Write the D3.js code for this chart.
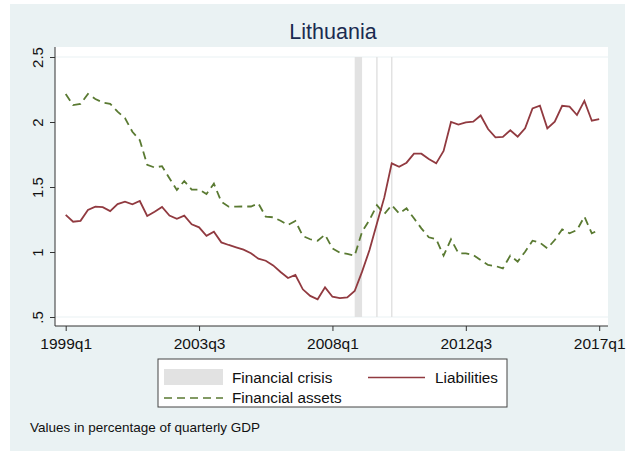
<!DOCTYPE html>
<html lang="en">
<head>
<meta charset="UTF-8">
<title>Lithuania</title>
<script src="https://d3js.org/d3.v7.min.js"></script>
<style>
  body { margin: 0; background: #fff; }
  text { font-family: "Liberation Sans", Arial, sans-serif; }
</style>
</head>
<body>
<svg id="chart" width="639" height="451"></svg>
<script>
// quarters 1999q1 .. 2017q1
const quarters = [];
for (let y = 1999; y <= 2017; y++) {
    for (let q = 1; q <= 4; q++) {
        if (y === 2017 && q > 1) break;
        quarters.push(y + "q" + q);
    }
}

const liabilities = [
    1.285, 1.233, 1.240, 1.323, 1.349, 1.345, 1.315, 1.369, 1.387, 1.367,
    1.392, 1.277, 1.310, 1.346, 1.280, 1.256, 1.280, 1.213, 1.190, 1.125,
    1.156, 1.074, 1.054, 1.036, 1.018, 0.990, 0.949, 0.933, 0.897, 0.846,
    0.800, 0.823, 0.713, 0.662, 0.636, 0.728, 0.656, 0.645, 0.651, 0.700,
    0.849, 1.015, 1.220, 1.420, 1.682, 1.656, 1.687, 1.756, 1.756, 1.715,
    1.682, 1.777, 2.000, 1.980, 1.997, 2.003, 2.050, 1.946, 1.882, 1.885,
    1.936, 1.887, 1.951, 2.105, 2.125, 1.951, 2.002, 2.125, 2.118, 2.054,
    2.162, 2.010, 2.023
];

const assets = [
    2.215, 2.130, 2.140, 2.215, 2.177, 2.150, 2.140, 2.080, 2.030, 1.925,
    1.860, 1.670, 1.650, 1.660, 1.567, 1.477, 1.546, 1.480, 1.480, 1.446,
    1.526, 1.387, 1.349, 1.349, 1.350, 1.350, 1.374, 1.272, 1.267, 1.240,
    1.208, 1.238, 1.123, 1.098, 1.087, 1.133, 1.028, 0.995, 0.985, 0.972,
    1.156, 1.246, 1.360, 1.292, 1.360, 1.297, 1.336, 1.259, 1.182, 1.113,
    1.098, 0.972, 1.098, 0.990, 0.990, 0.977, 0.938, 0.900, 0.892, 0.874,
    0.972, 0.926, 1.002, 1.087, 1.072, 1.028, 1.092, 1.174, 1.144, 1.169,
    1.272, 1.144, 1.169
];

// crisis periods [start, end]
const crisis = [["2008q4", "2009q1"], ["2009q3", "2009q3"], ["2010q1", "2010q1"]];

const xTicks = ["1999q1", "2003q3", "2008q1", "2012q3", "2017q1"];
const yTicks = [0.5, 1, 1.5, 2, 2.5];

const svg = d3.select("#chart");

// graph region
svg.append("rect").attr("x", 10).attr("y", 4).attr("width", 615).attr("height", 447)
    .attr("fill", "#eaf2f3");
// plot region
svg.append("rect").attr("x", 55).attr("y", 47).attr("width", 553).attr("height", 279)
    .attr("fill", "#fff");

const x = d3.scalePoint().domain(quarters).range([65.7, 599.2]);
const y = d3.scaleLinear().domain([0.5, 2.5]).range([317, 57]);

// grid at extremes
svg.selectAll(".grid").data([0.5, 2.5]).enter().append("line")
    .attr("x1", 55).attr("x2", 608)
    .attr("y1", d => y(d)).attr("y2", d => y(d))
    .attr("stroke", "#eaf2f3").attr("stroke-width", 1.2);

// crisis shading
svg.selectAll(".crisis").data(crisis).enter().append("rect")
    .attr("x", d => x(d[0]) - (d[0] === d[1] ? 0.75 : 0))
    .attr("width", d => Math.max(1.5, x(d[1]) - x(d[0])))
    .attr("y", y(2.5)).attr("height", y(0.5) - y(2.5))
    .attr("fill", "#e2e2e2");

// axes
const yAxis = d3.axisLeft(y).tickValues(yTicks).tickSize(5).tickPadding(6)
    .tickFormat(d => d === 0.5 ? ".5" : d3.format("")(d));
const gy = svg.append("g").attr("transform", "translate(55,0)").call(yAxis);
gy.select(".domain").attr("d", "M0,47V326").attr("stroke", "#333");
gy.selectAll(".tick line").attr("stroke", "#333");
gy.selectAll(".tick text")
    .attr("font-size", 15).attr("fill", "#111")
    .attr("x", null).attr("dy", null)
    .attr("text-anchor", "middle")
    .attr("transform", "translate(-12,0) rotate(-90)");

const xAxis = d3.axisBottom(x).tickValues(xTicks).tickSize(5).tickPadding(7);
const gx = svg.append("g").attr("transform", "translate(0,326)").call(xAxis);
gx.select(".domain").attr("d", "M55,0H608").attr("stroke", "#333");
gx.selectAll(".tick line").attr("stroke", "#333");
gx.selectAll(".tick text").attr("font-size", 15.5).attr("fill", "#111");

// lines
const line = d3.line().x((d, i) => x(quarters[i])).y(d => y(d));

svg.append("path").datum(assets).attr("d", line)
    .attr("fill", "none").attr("stroke", "#5a7a32").attr("stroke-width", 1.8)
    .attr("stroke-dasharray", "8,5");

svg.append("path").datum(liabilities).attr("d", line)
    .attr("fill", "none").attr("stroke", "#913a40").attr("stroke-width", 1.8);

// title
svg.append("text").attr("x", 333).attr("y", 39).attr("text-anchor", "middle")
    .attr("font-size", 21.5).attr("fill", "#1a2b50").text("Lithuania");

// legend
const lg = svg.append("g");
lg.append("rect").attr("x", 158).attr("y", 359).attr("width", 349).attr("height", 48)
    .attr("fill", "#fff").attr("stroke", "#444").attr("stroke-width", 1);
lg.append("rect").attr("x", 164).attr("y", 369).attr("width", 59).attr("height", 16)
    .attr("fill", "#e2e2e2");
lg.append("text").attr("x", 232).attr("y", 383).attr("font-size", 15.3).attr("fill", "#111")
    .text("Financial crisis");
lg.append("line").attr("x1", 368).attr("x2", 425).attr("y1", 377.5).attr("y2", 377.5)
    .attr("stroke", "#913a40").attr("stroke-width", 1.5);
lg.append("text").attr("x", 498).attr("y", 383).attr("text-anchor", "end")
    .attr("font-size", 15.3).attr("fill", "#111").text("Liabilities");
lg.append("line").attr("x1", 164).attr("x2", 223).attr("y1", 398).attr("y2", 398)
    .attr("stroke", "#5a7a32").attr("stroke-width", 1.5).attr("stroke-dasharray", "8,5");
lg.append("text").attr("x", 232).attr("y", 403).attr("font-size", 15.3).attr("fill", "#111")
    .text("Financial assets");

// note
svg.append("text").attr("x", 30).attr("y", 432).attr("font-size", 13.5).attr("fill", "#111")
    .text("Values in percentage of quarterly GDP");
</script>
</body>
</html>
